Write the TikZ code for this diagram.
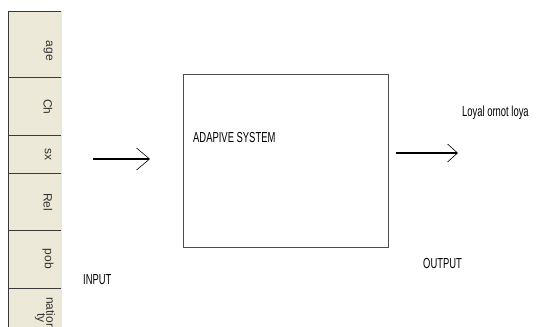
\documentclass[tikz,border=0pt]{standalone}
\usepackage{fontspec}
\setmainfont{Liberation Sans}
\newfontfamily\narrowfont[FakeStretch=0.65]{Liberation Sans}
\usetikzlibrary{arrows.meta}
\definecolor{headbeige}{HTML}{ECE9D8}
\definecolor{headline}{HTML}{3A3A3A}

\begin{document}
\begin{tikzpicture}[x=1pt,y=-1pt,
    cell/.style={fill=headbeige, minimum width=54pt, inner sep=0pt, anchor=north west},
    cellrule/.style={draw=headline, line width=0.9pt},
    lbl/.style={rotate=-90, inner sep=0pt, text=black!80, font=\fontsize{12}{12}\selectfont},
    caption/.style={inner sep=0pt, anchor=west, font=\narrowfont\fontsize{14.5}{15}\selectfont},
    flow/.style={line width=1.3pt, -{Straight Barb[length=13pt,width=22pt,line width=0.6pt]}}]

  \useasboundingbox (0,0) rectangle (539,327);
  \clip (0,0) rectangle (539,327);

  % header cells
  \node[cell, minimum height=66pt] (age) at (8,11) {};
  \node[cell, minimum height=58pt] (ch)  at (8,77) {};
  \node[cell, minimum height=38pt] (sx)  at (8,135) {};
  \node[cell, minimum height=57pt] (rel) at (8,173) {};
  \node[cell, minimum height=58pt] (pob) at (8,230) {};
  \node[cell, minimum height=50pt] (nat) at (8,288) {};

  \foreach \y in {11,77,135,173,230,288}
    \draw[cellrule] (8,\y) -- (61,\y);
  \draw[cellrule] (8,11) -- (8,327);

  \node[lbl] (age-t) at (48,51)  {age};
  \node[lbl] (ch-t)  at (48,107) {Ch};
  \node[lbl] (sx-t)  at (48,154) {sx};
  \node[lbl] (rel-t) at (48,202) {Rel};
  \node[lbl] (pob-t) at (48,259) {pob};
  \node[lbl, anchor=south west] (nat-t1) at (46,297) {natior};
  \node[lbl] (nat-t2) at (40,318) {ty};

  % system block
  \node[draw=black!70, line width=0.9pt, minimum width=205pt, minimum height=173pt,
        anchor=north west] (sys) at (183,74) {};
  \node[caption] (sys-t) at (193,138) {ADAPIVE SYSTEM};

  % in and out
  \coordinate (in-a) at (93,159);
  \coordinate (in-b) at (150,159);
  \coordinate (out-a) at (396,153);
  \coordinate (out-b) at (458,153);
  \draw[flow] (in-a) -- (in-b);
  \draw[flow, -{Straight Barb[length=10pt,width=18pt,line width=0.6pt]}] (out-a) -- (out-b);

  \node[caption] (input)  at (83,280)  {INPUT};
  \node[caption] (output) at (423,264) {OUTPUT};
  \node[caption] (loyal)  at (462,113) {Loyal ornot loya};

\end{tikzpicture}
\end{document}
